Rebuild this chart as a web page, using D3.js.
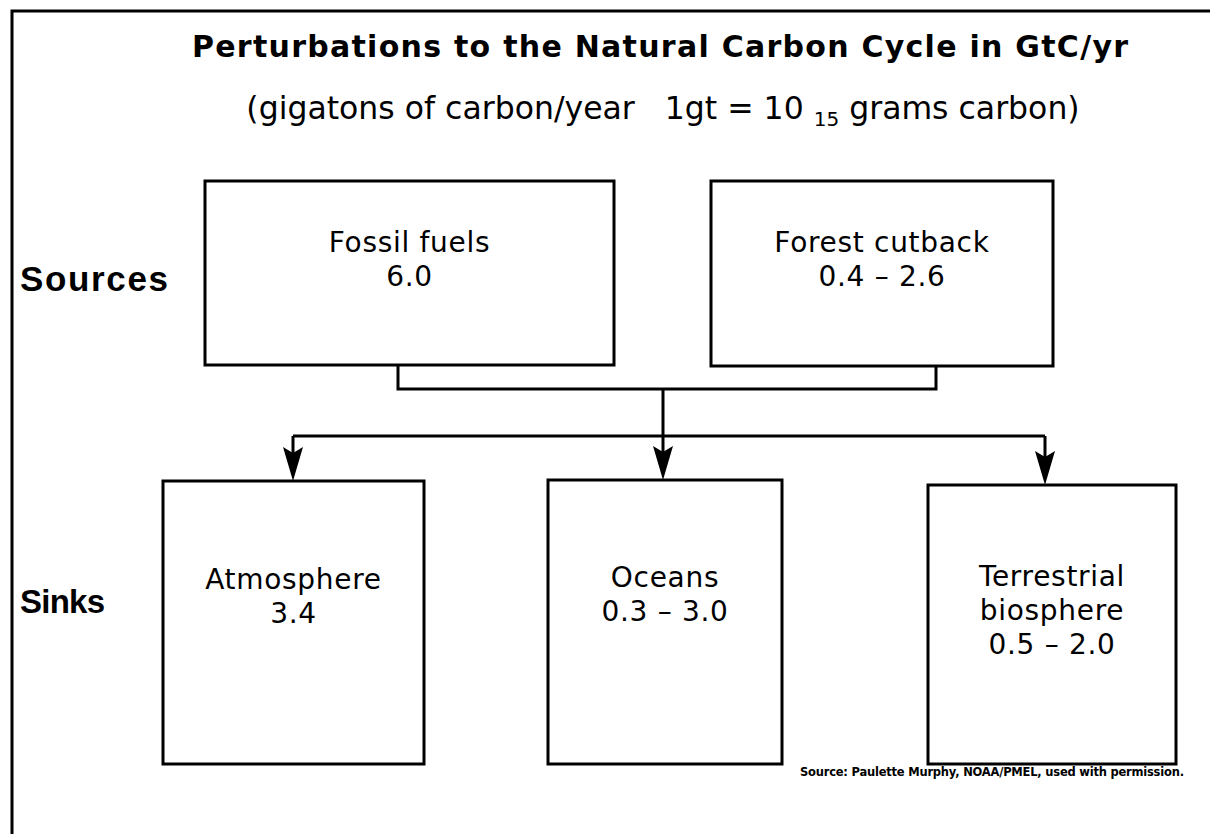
<!DOCTYPE html>
<html>
<head>
<meta charset="utf-8">
<script src="https://cdn.jsdelivr.net/npm/d3@7"></script>
<style>
  body { margin: 0; background: #fff; }
  svg { display: block; }
  text { fill: #000; }
</style>
</head>
<body>
<main></main>
<script>
const width = 1210
const height = 834

// data
const title = 'Perturbations to the Natural Carbon Cycle in GtC/yr'
const sources = ['Fossil fuels', 'Forest cutback']
const sourceValues = ['6.0', '0.4 \u2013 2.6']
const sinks = [['Atmosphere'], ['Oceans'], ['Terrestrial', 'biosphere']]
const sinkValues = ['3.4', '0.3 \u2013 3.0', '0.5 \u2013 2.0']
const rowLabels = ['Sources', 'Sinks']
const note = 'Source:  Paulette Murphy, NOAA/PMEL, used with permission.'

// layout of the diagram (pixels)
const sourceBoxes = [
  { x0: 205, x1: 614, y0: 181, y1: 365, text: 252 },
  { x0: 711, x1: 1053, y0: 181, y1: 366, text: 252 }
]
const sinkBoxes = [
  { x0: 163, x1: 424, y0: 481, y1: 764, text: 589, stem: 293 },
  { x0: 548, x1: 782, y0: 480, y1: 764, text: 587, stem: 663 },
  { x0: 928, x1: 1176, y0: 485, y1: 764, text: 586, stem: 1045 }
]
const rowLabelY = [291, 613]
const rowLabelW = [148, 85]
const lineGap = 34
const joinY = 389
const splitY = 436
const stroke = 3
const font = '"DejaVu Sans", sans-serif'
const boldFont = '"Liberation Sans", Arial, sans-serif'

// spread letters so that a text fills a given width
const fitWidth = (sel, target) => {
  const node = sel.node()
  const n = node.getNumberOfChars()
  const w = node.getComputedTextLength()
  sel.style('letter-spacing', ((target - w) / (n - 1)) + 'px')
}

const svg = d3.select('main')
  .append('svg')
  .attr('width', width)
  .attr('height', height)

svg.append('rect')
  .attr('width', width).attr('height', height)
  .attr('fill', '#fff')

// frame (only top and left edges fall inside the picture)
svg.append('path')
  .attr('d', `M12,${height + 5} L12,11 L${width + 5},11`)
  .attr('fill', 'none')
  .attr('stroke', '#000')
  .attr('stroke-width', stroke)

const t = svg.append('text')
  .attr('x', 192).attr('y', 57)
  .style('font-family', font)
  .style('font-weight', 'bold')
  .style('font-size', '30px')
  .text(title)
fitWidth(t, 936)

const sub = svg.append('text')
  .attr('x', 663).attr('y', 119)
  .attr('text-anchor', 'middle')
  .style('font-family', font)
  .style('font-size', '31.5px')
sub.append('tspan').text('(gigatons of carbon/year\u00a0\u00a0\u00a01gt = 10 ')
sub.append('tspan').attr('dy', 7).style('font-size', '20px').text('15')
sub.append('tspan').attr('dy', -7).text(' grams carbon)')

const drawBoxes = (boxes, names, values) => {
  const g = svg.append('g')
  g.selectAll('rect')
    .data(boxes)
    .enter()
    .append('rect')
    .attr('x', d => d.x0)
    .attr('y', d => d.y0)
    .attr('width', d => d.x1 - d.x0)
    .attr('height', d => d.y1 - d.y0)
    .attr('fill', 'none')
    .attr('stroke', '#000')
    .attr('stroke-width', stroke)

  // one text per line, so lines stay apart
  boxes.forEach((d, i) => {
    const cx = (d.x0 + d.x1) / 2
    g.selectAll(null)
      .data([].concat(names[i], values[i]))
      .enter()
      .append('text')
      .attr('x', cx)
      .attr('y', (l, j) => d.text + j * lineGap)
      .attr('text-anchor', 'middle')
      .style('font-family', font)
      .style('font-size', '28px')
      .style('letter-spacing', '0.7px')
      .text(l => l)
  })
}

drawBoxes(sourceBoxes, sources, sourceValues)
drawBoxes(sinkBoxes, sinks, sinkValues)

// connectors
const midX = sinkBoxes[1].stem
const lines = svg.append('g')
  .attr('fill', 'none')
  .attr('stroke', '#000')
  .attr('stroke-width', stroke)

lines.append('path')
  .attr('d', d3.line()([
    [398, sourceBoxes[0].y1],
    [398, joinY],
    [936, joinY],
    [936, sourceBoxes[1].y1]
  ]))

lines.append('path')
  .attr('d', d3.line()([[midX, joinY], [midX, splitY]]))

lines.append('path')
  .attr('d', d3.line()([
    [sinkBoxes[0].stem, splitY],
    [sinkBoxes[2].stem, splitY]
  ]))

lines.selectAll('.stem')
  .data(sinkBoxes)
  .enter()
  .append('path')
  .attr('class', 'stem')
  .attr('d', d => d3.line()([[d.stem, splitY], [d.stem, d.y0 - 20]]))

svg.append('g').selectAll('path')
  .data(sinkBoxes)
  .enter()
  .append('path')
  .attr('transform', d => `translate(${d.stem},${d.y0})`)
  .attr('d', 'M0,0 L-10,-34 L0,-28 L10,-34 Z')
  .attr('fill', '#000')

svg.selectAll('.row')
  .data(rowLabels)
  .enter()
  .append('text')
  .attr('class', 'row')
  .attr('x', 20)
  .attr('y', (d, i) => rowLabelY[i])
  .style('font-family', boldFont)
  .style('font-weight', 'bold')
  .style('font-size', (d, i) => ['35px', '33px'][i])
  .text(d => d)
  .each(function (d, i) {
    fitWidth(d3.select(this), rowLabelW[i])
  })

const src = svg.append('text')
  .attr('x', 800).attr('y', 776)
  .style('font-family', font)
  .style('font-weight', 'bold')
  .style('font-size', '11.5px')
  .text(note)
fitWidth(src, 384)
</script>
</body>
</html>
